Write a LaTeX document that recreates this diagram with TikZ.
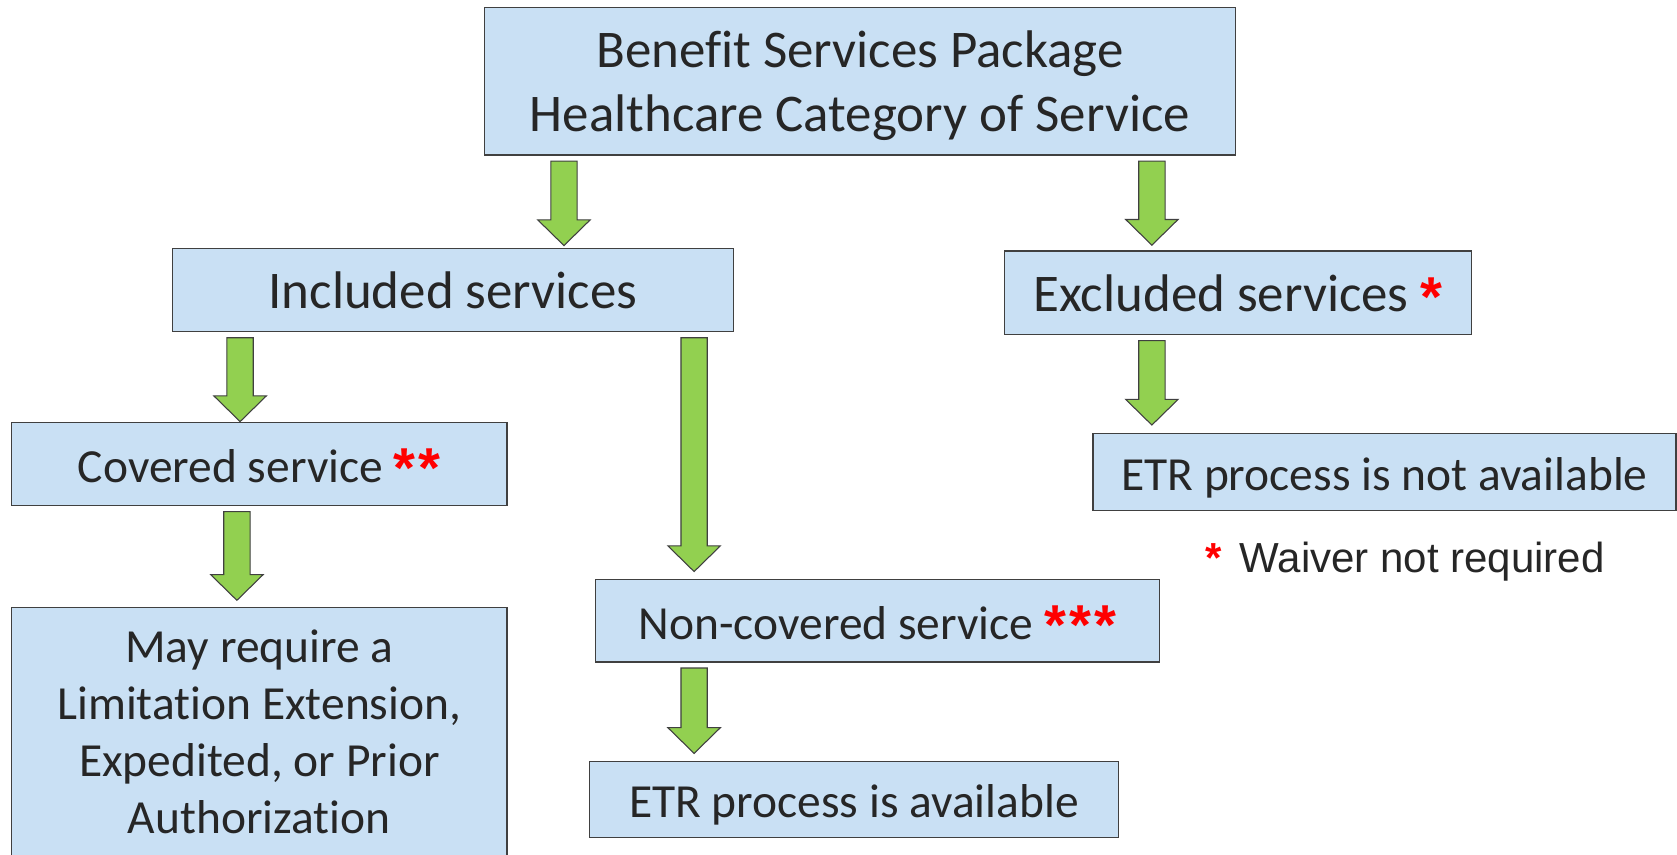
\documentclass[tikz,border=0pt]{standalone}
\usepackage{fontspec}
\setmainfont{Carlito}[Ligatures={NoCommon,NoRare}]
\newfontfamily\notefont{Liberation Sans}
\usetikzlibrary{calc}
\definecolor{boxblue}{RGB}{201,224,244}
\definecolor{arrowgreen}{RGB}{146,208,80}
\definecolor{edgegray}{RGB}{64,64,64}
\definecolor{inkgray}{RGB}{38,38,38}
\newcommand{\redstar}[1]{\raisebox{-4.5pt}{\textcolor{red}{\notefont\bfseries\fontsize{52.6}{60}\selectfont #1}}}
\begin{document}
\begin{tikzpicture}[x=1pt, y=-1pt, line join=miter,
		infobox/.style={draw=edgegray, fill=boxblue, line width=1.2pt, inner sep=0pt, align=center, text=inkgray},
		bigfont/.style={font=\fontsize{49.5}{59.5}\selectfont},
		smallfont/.style={font=\fontsize{44.4}{53.5}\selectfont},
		bigline/.style={bigfont, text height=35pt, text depth=0pt},
		smallline/.style={smallfont, text height=34.4pt, text depth=0pt},
		greenarrow/.style={draw=edgegray, fill=arrowgreen, line width=1pt}]
			\clip (0,0) rectangle (1568,798.5);
			\fill[white] (0,0) rectangle (1568,798.5);
			\node[infobox, bigfont, text depth=0pt, minimum width=702pt, minimum height=138pt] (pkg) at (804,76) {Benefit Services Package\\Healthcare Category of Service};
			\node[infobox, bigline, minimum width=525pt, minimum height=78pt] (incl) at (423.5,271.2) {Included services};
			\node[infobox, bigline, minimum width=437pt, minimum height=78pt] (excl) at (1157.5,273.8) {Excluded services \redstar{*}};
			\node[infobox, smallline, minimum width=463pt, minimum height=78pt] (cov) at (242.5,433.8) {Covered service \redstar{*\kern3pt*}};
			\node[infobox, smallline, minimum width=545pt, minimum height=72pt] (notavail) at (1294.5,441) {ETR process is not available};
			\node[infobox, smallline, minimum width=527pt, minimum height=77pt] (noncov) at (820.5,580.5) {Non-covered service \redstar{*\kern3pt*\kern3pt*}};
			\node[infobox, smallline, minimum width=495pt, minimum height=71pt] (avail) at (798.5,747.5) {ETR process is available};
			\node[infobox, smallfont, minimum width=463pt, minimum height=233pt, anchor=north] (may) at (242.5,567.3) {May require a\\Limitation Extension,\\Expedited, or Prior\\Authorization};
			\node[anchor=base west, inner sep=0pt, text=inkgray, font=\notefont\fontsize{39.3}{47}\selectfont] (note) at (1127,535.5) {\textcolor{red}{\bfseries *}\hspace{16.5pt}Waiver not required};
			\foreach \src/\dst/\ax/\gap in {pkg/incl/527.3/2, pkg/excl/1077/5, incl/cov/224.5/0, incl/noncov/649/7, excl/notavail/1077/7, cov/may/221.5/6, noncov/avail/649/7}
			\draw[greenarrow] let \p1=(\ax,0), \p2=(\src.south), \p3=(\dst.north) in
				(\x1-12.3pt,\y2-5pt) -- (\x1+12.3pt,\y2-5pt) -- (\x1+12.3pt,\y3+\gap pt+24pt) -- (\x1+24.5pt,\y3+\gap pt+24pt)
				-- (\x1,\y3+\gap pt) -- (\x1-24.5pt,\y3+\gap pt+24pt) -- (\x1-12.3pt,\y3+\gap pt+24pt) -- cycle;
		\end{tikzpicture}
\end{document}
